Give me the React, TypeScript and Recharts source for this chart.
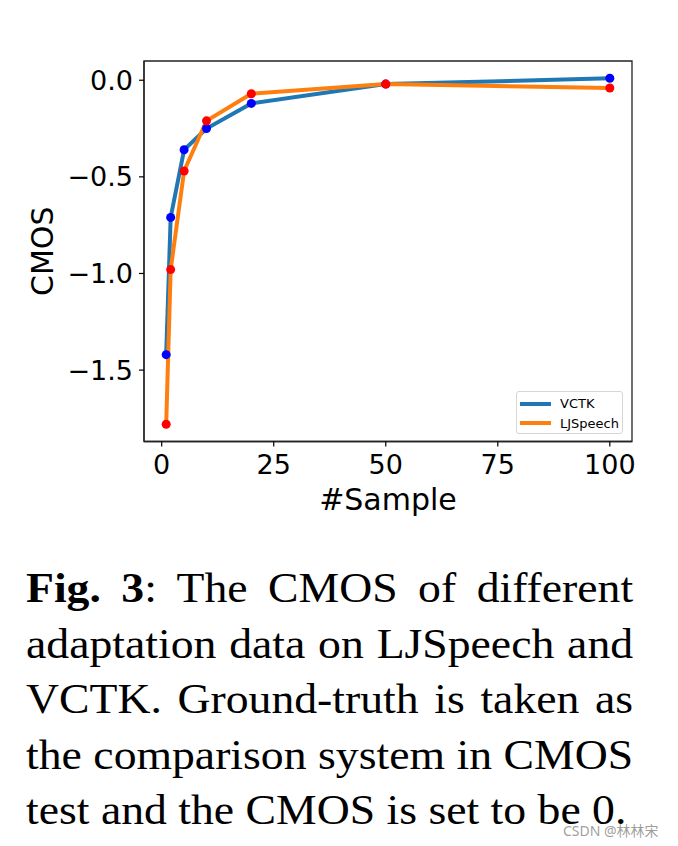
import React from 'react';
import { LineChart, Line, XAxis, YAxis, Legend, ReferenceArea } from 'recharts';

const samples = [1, 2, 5, 10, 20, 50, 100];
const vctk = [-1.42, -0.71, -0.36, -0.25, -0.12, -0.02, 0.01];
const ljspeech = [-1.78, -0.98, -0.47, -0.21, -0.07, -0.02, -0.04];
const xTicks = [0, 25, 50, 75, 100];
const yTicks = [-1.5, -1.0, -0.5, 0.0];
const seriesNames = ['VCTK', 'LJSpeech'];
const lineColors = ['#1f77b4', '#ff7f0e'];
const dotColors = ['#0000ff', '#ff0000'];
const captionLines = [
  ['Fig. 3', ':  The CMOS of different'],
  ['', 'adaptation data on LJSpeech and'],
  ['', 'VCTK. Ground-truth is taken as'],
  ['', 'the comparison system in CMOS'],
  ['', 'test and the CMOS is set to be 0.'],
];

const data = samples.map((s, i) => ({ s, vctk: vctk[i], lj: ljspeech[i] }));

const allY = [...vctk, ...ljspeech];
const yLo = Math.min(...allY);
const yHi = Math.max(...allY);
const yPad = (yHi - yLo) * 0.05;
const xLo = Math.min(...samples);
const xHi = Math.max(...samples);
const xPad = (xHi - xLo) * 0.05;
const xDom: [number, number] = [xLo - xPad, xHi + xPad];
const yDom: [number, number] = [yLo - yPad, yHi + yPad];

const FONT = '"DejaVu Sans", sans-serif';
const fmtY = (v: number) => (v < 0 ? '\u2212' : '') + Math.abs(v).toFixed(1);

const LegendBox = () => (
  <div
    style={{
      width: 107,
      height: 43,
      boxSizing: 'border-box',
      border: '1px solid #d6d6d6',
      borderRadius: 3,
      background: 'rgba(255,255,255,0.85)',
      paddingTop: 2,
      paddingLeft: 3,
      fontFamily: FONT,
      fontSize: 13,
      color: '#000',
    }}
  >
    {seriesNames.map((n, i) => (
      <div key={n} style={{ display: 'flex', alignItems: 'center', height: 19.5 }}>
        <div style={{ width: 31, height: 4, background: lineColors[i], marginRight: 9 }} />
        <span>{n}</span>
      </div>
    ))}
  </div>
);

export default function App() {
  return (
    <div
      style={{
        position: 'absolute',
        left: 0,
        top: 0,
        width: 678,
        height: 846,
        background: '#fff',
        overflow: 'hidden',
      }}
    >
      <LineChart
        width={678}
        height={540}
        data={data}
        margin={{ top: 61, right: 46, bottom: 58.5, left: 0 }}
      >
        <XAxis
          dataKey="s"
          type="number"
          domain={xDom}
          ticks={xTicks}
          allowDataOverflow
          height={40}
          tickSize={5}
          tickMargin={8}
          tick={{ fontSize: 27, fontFamily: FONT, fill: '#000' }}
          tickLine={{ stroke: '#000', strokeWidth: 1.2 }}
          axisLine={{ stroke: '#222', strokeWidth: 1.3 }}
          label={{
            content: (p: any) => {
              const vb = p.viewBox || { x: 144, y: 441.5, width: 488 };
              return (
                <text
                  x={vb.x + vb.width / 2}
                  y={vb.y + 68.5}
                  textAnchor="middle"
                  fontSize={30}
                  fontFamily={FONT}
                  fill="#000"
                >
                  #Sample
                </text>
              );
            },
          }}
        />
        <YAxis
          type="number"
          domain={yDom}
          ticks={yTicks}
          allowDataOverflow
          width={144}
          tickSize={5}
          tickMargin={6}
          tickFormatter={fmtY}
          tick={{ fontSize: 27, fontFamily: FONT, fill: '#000' }}
          tickLine={{ stroke: '#000', strokeWidth: 1.2 }}
          axisLine={{ stroke: '#222', strokeWidth: 1.3 }}
          label={{
            content: (p: any) => {
              const vb = p.viewBox || { x: 0, y: 61, height: 380 };
              const cx = vb.x + 53;
              const cy = vb.y + vb.height / 2;
              return (
                <text
                  x={cx}
                  y={cy}
                  transform={`rotate(-90 ${cx} ${cy})`}
                  textAnchor="middle"
                  fontSize={30}
                  fontFamily={FONT}
                  fill="#000"
                >
                  CMOS
                </text>
              );
            },
          }}
        />
        <ReferenceArea
          x1={xDom[0]}
          x2={xDom[1]}
          y1={yDom[0]}
          y2={yDom[1]}
          fill="none"
          fillOpacity={0}
          stroke="#222"
          strokeWidth={1.3}
          ifOverflow="visible"
        />
        <Line
          dataKey="vctk"
          name={seriesNames[0]}
          stroke={lineColors[0]}
          strokeWidth={4}
          isAnimationActive={false}
          dot={{ r: 4.5, fill: dotColors[0], stroke: 'none' }}
          activeDot={false}
        />
        <Line
          dataKey="lj"
          name={seriesNames[1]}
          stroke={lineColors[1]}
          strokeWidth={4}
          isAnimationActive={false}
          dot={{ r: 4.5, fill: dotColors[1], stroke: 'none' }}
          activeDot={false}
        />
        <Legend
          layout="horizontal"
          verticalAlign="middle"
          align="center"
          wrapperStyle={{ position: 'absolute', left: 516, top: 391, width: 107, height: 43 }}
          content={() => <LegendBox />}
        />
      </LineChart>
      <div
        style={{
          position: 'absolute',
          left: 26,
          top: 561,
          width: 558,
          transform: 'scaleX(1.088)',
          transformOrigin: '0 0',
          fontFamily: '"Liberation Serif", "Times New Roman", serif',
          fontSize: 42,
          lineHeight: '55.5px',
          color: '#000',
        }}
      >
        {captionLines.map((ln, i) => (
          <div
            key={i}
            style={{
              textAlign: i === captionLines.length - 1 ? 'left' : 'justify',
              textAlignLast: i === captionLines.length - 1 ? 'left' : 'justify',
              whiteSpace: 'nowrap',
              height: 55.5,
            }}
          >
            {ln[0] ? <b>{ln[0]}</b> : null}
            {ln[1]}
          </div>
        ))}
      </div>
      <div
        style={{
          position: 'absolute',
          left: 563,
          top: 820,
          fontFamily: '"Noto Sans", "Noto Sans CJK SC", sans-serif',
          fontSize: 14,
          color: 'rgba(140,140,140,0.85)',
          whiteSpace: 'nowrap',
        }}
      >
        CSDN @林林宋
      </div>
    </div>
  );
}
